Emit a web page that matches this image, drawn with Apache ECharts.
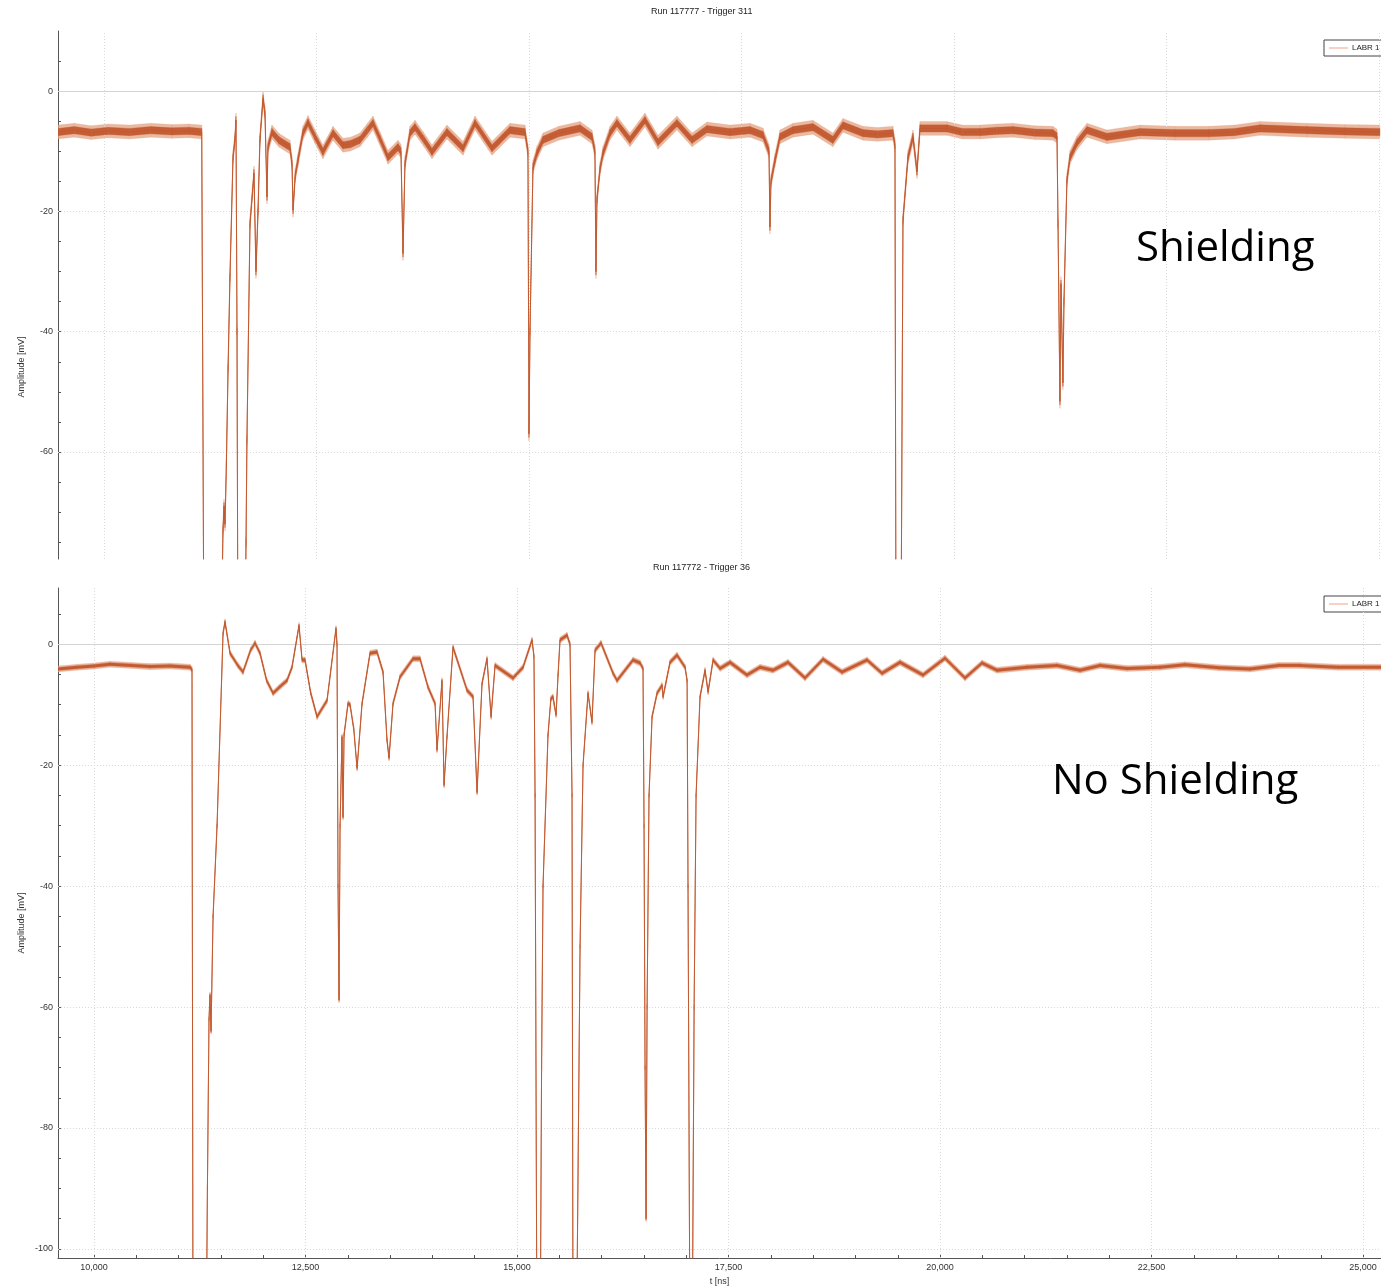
<!DOCTYPE html>
<html><head><meta charset="utf-8">
<script src="https://cdn.jsdelivr.net/npm/echarts@6/dist/echarts.min.js"></script>
<style>html,body{margin:0;padding:0;background:#fff}#c{width:1381px;height:1286px}</style>
</head><body><div id="c"></div><script>
// ---- Top panel: Run 117777 - Trigger 311 (Shielding) ----
const tTop = [9459,9650,9850,10050,10300,10550,10800,11000,11150,11176,11376,11400,11412,11424,11440,11460,11482,11518,11541,11553,11565,11576,11659,11671,11682,11718,11765,11788,11812,11835,11871,11894,11918,11929,11976,12060,12188,12212,12224,12250,12282,12340,12400,12480,12576,12694,12812,12900,13012,13100,13165,13250,13341,13459,13494,13518,13541,13600,13659,13760,13859,14035,14224,14365,14565,14776,14953,14988,15000,15012,15047,15094,15165,15350,15600,15741,15776,15788,15800,15835,15871,15953,16035,16188,16365,16518,16741,16918,17094,17365,17600,17753,17824,17835,17847,17894,17953,18106,18341,18576,18694,18929,19100,19282,19306,19318,19376,19400,19459,19518,19565,19600,19918,20100,20306,20500,20694,20950,21165,21212,21224,21247,21259,21282,21294,21329,21365,21447,21565,21800,22188,22600,23000,23300,23600,24153,24600,25012];
const vTop = [-6.8,-6.5,-6.9,-6.6,-6.8,-6.5,-6.7,-6.6,-6.8,-95,-95,-73,-69,-72,-62,-46,-31,-11,-8,-4.8,-40,-95,-95,-75,-58,-22,-13.6,-30,-20,-8,-1.2,-3.7,-17.6,-9.3,-6.8,-8.2,-9.3,-12,-19.8,-14,-11.5,-7,-5.2,-7.5,-10.1,-7,-9,-8.8,-8.1,-6.5,-5.3,-8,-11,-9.3,-10,-27,-12,-7,-6,-8,-10.1,-6.8,-9.5,-5.3,-9.5,-6.5,-6.8,-10,-57,-40,-12.6,-10.3,-8.1,-7,-6.2,-7.6,-10,-30,-18,-13,-10.3,-7,-5.3,-8.1,-4.8,-8.5,-5.3,-8.1,-6.3,-6.8,-6.5,-7.3,-10,-22.6,-15,-11.5,-7.6,-6.5,-6,-8.1,-5.7,-7,-7.2,-7,-9,-95,-95,-21.4,-11,-7.6,-13.4,-6.2,-6.2,-6.8,-6.8,-6.6,-6.5,-6.9,-7,-7.5,-22,-51.6,-32,-48.5,-35,-14.8,-11,-8.6,-6.5,-7.6,-6.8,-7,-7,-6.8,-6.2,-6.5,-6.7,-6.8];

// ---- Bottom panel: Run 117772 - Trigger 36 (No Shielding) ----
const tBot = [9574,9800,10000,10189,10450,10662,10900,11135,11158,11170,11324,11340,11359,11371,11383,11407,11454,11525,11548,11608,11700,11761,11850,11903,11962,12040,12116,12200,12281,12340,12423,12459,12494,12560,12636,12754,12860,12872,12884,12896,12908,12931,12943,12955,13002,13026,13070,13109,13168,13262,13345,13416,13463,13487,13534,13617,13771,13853,13948,14031,14054,14113,14137,14172,14243,14409,14480,14527,14586,14645,14693,14740,14953,15071,15177,15200,15213,15236,15272,15290,15307,15366,15400,15425,15440,15461,15485,15508,15591,15626,15650,15662,15700,15745,15780,15839,15886,15922,15993,16135,16182,16371,16454,16489,16501,16513,16525,16537,16560,16596,16655,16714,16726,16808,16891,16986,17010,17021,17045,17069,17093,17116,17163,17222,17258,17317,17400,17518,17718,17872,18026,18203,18404,18617,18841,19137,19314,19527,19799,20059,20295,20496,20673,21028,21383,21655,21891,22210,22600,22896,23300,23664,24000,24255,24700,25213];
const vBot = [-4.1,-3.8,-3.6,-3.3,-3.5,-3.7,-3.6,-3.8,-4.2,-120,-120,-90,-62,-58,-64,-45,-30,1.8,3.7,-1.5,-3.5,-4.6,-1,0.2,-1.5,-6,-8.1,-7,-6,-3.8,3.1,-2.6,-2.6,-8,-12,-9.3,2.6,0,-40,-58.8,-30,-15.3,-28.6,-15,-9.8,-10,-14,-20.5,-9.8,-1.5,-1.3,-4.6,-15.9,-18.8,-9.8,-5.4,-2.4,-2.4,-7.1,-9.8,-17.5,-6,-23.3,-15.3,-0.5,-7.6,-8.7,-24.5,-6.5,-2.4,-12,-3.5,-5.6,-3.8,0.7,-2,-25,-120,-120,-70,-40,-15,-9,-8.7,-10,-11.7,-5,0.7,1.5,0,-25,-120,-120,-50,-20,-8.1,-12.9,-1,0.2,-4.8,-6,-2.6,-3.1,-4,-30,-70,-95,-60,-25,-12,-8.1,-6.8,-8.7,-3,-1.8,-3.8,-6,-40,-120,-120,-60,-25,-8.7,-4.3,-7.9,-2.6,-4,-3,-5.1,-3.8,-4.3,-3,-5.6,-2.5,-4.6,-2.6,-4.8,-3,-5.1,-2.3,-5.6,-3.1,-4.3,-3.8,-3.5,-4.3,-3.5,-4,-3.8,-3.4,-3.9,-4.1,-3.5,-3.5,-3.8,-3.8];

// noise half-widths of the trace band (mV): [outer, inner]
const noiseTop = [1.15, 0.6];
const noiseBot = [0.5, 0.25];

// ticks / labels
const xLabelVals = [10000,12500,15000,17500,20000,22500,25000];
const xTickVals = [10000,10500,11000,11500,12000,12500,13000,13500,14000,14500,15000,15500,16000,16500,17000,17500,18000,18500,19000,19500,20000,20500,21000,21500,22000,22500,23000,23500,24000,24500,25000];
const yLabelTop = [0,-20,-40,-60];
const yTickTop = [5,0,-5,-10,-15,-20,-25,-30,-35,-40,-45,-50,-55,-60,-65,-70,-75];
const yLabelBot = [0,-20,-40,-60,-80,-100];
const yTickBot = [5,0,-5,-10,-15,-20,-25,-30,-35,-40,-45,-50,-55,-60,-65,-70,-75,-80,-85,-90,-95,-100];

const FONT = '"Liberation Sans", Arial, sans-serif';
const TRACE = '#c25a30';
const OUTER = 'rgba(228,160,128,0.75)';
const INNER = 'rgba(194,88,48,0.95)';

// noise band: quads between consecutive points, positioned with the axis scales (api.coord)
function bandSeries(t, v, n, idx, color, z) {
  return {type:'custom', name:'band', xAxisIndex:idx, yAxisIndex:idx, clip:true, silent:true, z,
    data:t.map((x,i)=>[x, v[i]]),
    encode:{x:0, y:1},
    renderItem(params, api) {
      const i = params.dataIndex;
      if (i >= t.length - 1) return null;
      const a = api.coord([t[i], v[i] + n]);
      const b = api.coord([t[i+1], v[i+1] + n]);
      const c = api.coord([t[i+1], v[i+1] - n]);
      const d = api.coord([t[i], v[i] - n]);
      return {type:'polygon', shape:{points:[a, b, c, d]}, style:{fill:color, stroke:color, lineWidth:0.3}};
    }};
}
function traceSeries(t, v, idx) {
  return {type:'line', name:'LABR 1', xAxisIndex:idx, yAxisIndex:idx, data:t.map((x,i)=>[x, v[i]]),
    symbol:'none', showSymbol:false, lineStyle:{color:TRACE, width:1}, itemStyle:{color:'#f2a285'}, z:7, silent:true};
}
function gridLines(idx, xs, ys) {
  const d = xs.map(v=>({xAxis:v}));
  ys.forEach(v=>{
    if (v === 0) d.push({yAxis:0, lineStyle:{type:'solid', color:'#d4d4d4', width:1}});
    else d.push({yAxis:v});
  });
  return {type:'line', name:'grid'+idx, xAxisIndex:idx, yAxisIndex:idx, data:[], z:1, silent:true,
    markLine:{silent:true, symbol:['none','none'], animation:false, label:{show:false},
      lineStyle:{type:[1,2], color:'#d9d9d9', width:1}, emphasis:{disabled:true}, data:d}};
}
function yAxisCfg(idx, min, max, labels, ticks) {
  return {type:'value', gridIndex:idx, min, max,
    axisLine:{show:true, onZero:false, lineStyle:{color:'#555', width:1}},
    axisTick:{show:true, inside:true, length:3, customValues:ticks, lineStyle:{color:'#555'}},
    axisLabel:{show:true, customValues:labels, fontSize:9, color:'#333', fontFamily:FONT, margin:5},
    splitLine:{show:false}};
}
function legendCfg(top) {
  return {data:['LABR 1'], left:1324, top, orient:'horizontal', padding:[4,5,4,5], itemWidth:19, itemHeight:1,
    icon:'rect', itemStyle:{color:'#f2a285', borderWidth:0},
    borderColor:'#444', borderWidth:1, backgroundColor:'#fff', selectedMode:false, itemGap:5,
    textStyle:{fontSize:8, color:'#222', fontFamily:FONT, padding:[0,0,0,-1]}};
}

const chart = echarts.init(document.getElementById('c'), null, {renderer:'canvas'});
chart.setOption({
  animation:false,
  backgroundColor:'#fff',
  title:[
    {text:'Run 117777 - Trigger 311', left:651, top:7, padding:0, textStyle:{fontSize:9, fontWeight:'normal', color:'#222', fontFamily:FONT}},
    {text:'Run 117772 - Trigger 36', left:653, top:563, padding:0, textStyle:{fontSize:9, fontWeight:'normal', color:'#222', fontFamily:FONT}}
  ],
  legend:[legendCfg(40), legendCfg(596)],
  grid:[
    {left:58, top:31, right:0, height:528, containLabel:false, outerBoundsMode:'none'},
    {left:58, top:588, right:0, height:670, containLabel:false, outerBoundsMode:'none'}
  ],
  xAxis:[
    {type:'value', gridIndex:0, min:9459, max:25024, axisLine:{show:false}, axisTick:{show:false},
     axisLabel:{show:false}, splitLine:{show:false}},
    {type:'value', gridIndex:1, min:9574, max:25212, name:'t [ns]', nameLocation:'middle', nameGap:18,
     nameTextStyle:{fontSize:9, color:'#333', fontFamily:FONT},
     axisLine:{show:true, onZero:false, lineStyle:{color:'#555', width:1}},
     axisTick:{show:true, inside:true, length:3, customValues:xTickVals, lineStyle:{color:'#555'}},
     axisLabel:{show:true, customValues:xLabelVals, fontSize:9, color:'#333', fontFamily:FONT, margin:5,
       formatter:v=>Number(v).toLocaleString('en-US')},
     splitLine:{show:false}}
  ],
  yAxis:[
    yAxisCfg(0, -77.8, 10, yLabelTop, yTickTop),
    yAxisCfg(1, -101.5, 9.3, yLabelBot, yTickBot)
  ],
  graphic:[
    {type:'text', x:22, y:367, rotation:Math.PI/2, silent:true,
     style:{text:'Amplitude [mV]', font:'9px '+FONT, fill:'#333', textAlign:'center', textVerticalAlign:'middle'}},
    {type:'text', x:22, y:923, rotation:Math.PI/2, silent:true,
     style:{text:'Amplitude [mV]', font:'9px '+FONT, fill:'#333', textAlign:'center', textVerticalAlign:'middle'}},
    {type:'text', x:1136, y:249, silent:true, z:100,
     style:{text:'Shielding', font:'42px "Open Sans"', fill:'#000', textAlign:'left', textVerticalAlign:'middle'}},
    {type:'text', x:1052, y:782, silent:true, z:100,
     style:{text:'No Shielding', font:'42px "Open Sans"', fill:'#000', textAlign:'left', textVerticalAlign:'middle'}}
  ],
  series:[
    gridLines(0, xLabelVals, [0,-20,-40,-60]),
    gridLines(1, xLabelVals, [0,-20,-40,-60,-80,-100]),
    bandSeries(tTop, vTop, noiseTop[0], 0, OUTER, 4),
    bandSeries(tTop, vTop, noiseTop[1], 0, INNER, 5),
    traceSeries(tTop, vTop, 0),
    bandSeries(tBot, vBot, noiseBot[0], 1, OUTER, 4),
    bandSeries(tBot, vBot, noiseBot[1], 1, INNER, 5),
    traceSeries(tBot, vBot, 1)
  ]
});
</script></body></html>
